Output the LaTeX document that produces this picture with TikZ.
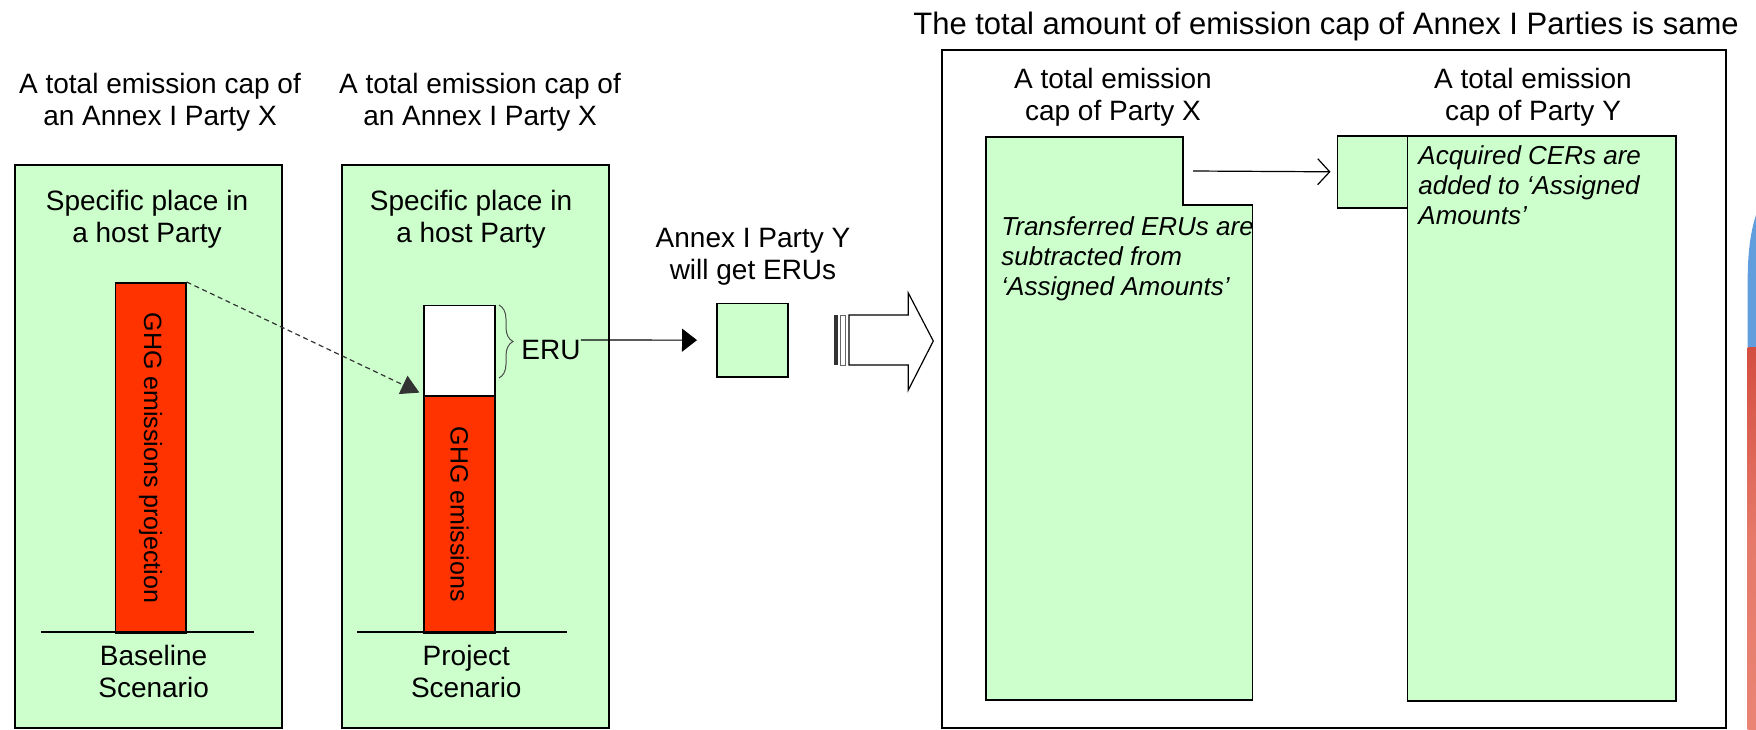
\documentclass[tikz,border=0pt]{standalone}
\usepackage{fontspec}
\setmainfont{Liberation Sans}
\usetikzlibrary{arrows.meta,decorations.pathreplacing,positioning}

\begin{document}
\begin{tikzpicture}[x=0.5pt, y=-0.5pt]
	\definecolor{capGreen}{RGB}{204, 255, 204}
	\definecolor{ghgRed}{RGB}{255, 51, 0}
	\definecolor{edgeBlue}{RGB}{98, 158, 222}
	\definecolor{edgeRed}{RGB}{212, 78, 64}
	\definecolor{edgeSalmon}{RGB}{234, 132, 116}
	\tikzstyle{greenbox}=[draw, fill=capGreen, line width=0.8pt, inner sep=0pt, anchor=north west]
	\tikzstyle{bar}=[draw, line width=0.8pt, inner sep=0pt, anchor=north west, minimum width=35.3pt]
	\tikzstyle{caption}=[align=center, font=\fontsize{14}{16}\selectfont, inner sep=0pt]
	\tikzstyle{bartext}=[rotate=-90, font=\fontsize{12.5}{14}\selectfont, inner sep=0pt]
	\tikzstyle{note}=[align=left, font=\fontsize{13}{15}\selectfont\itshape, inner sep=0pt, anchor=north west]
	\tikzstyle{ground}=[line width=1pt]

	\useasboundingbox (0,0) rectangle (1756,729);

	% baseline and project scenario
	\node [greenbox, minimum width=133.5pt, minimum height=281.5pt] (base) at (14,164) {};
	\node [greenbox, minimum width=133.5pt, minimum height=281.5pt] (proj) at (341,164) {};

	\node [caption] (basetitle) at (160,102.3) {A total emission cap of\\an Annex I Party X};
	\node [caption] (projtitle) at (480,102.3) {A total emission cap of\\an Annex I Party X};
	\node [caption] (baseplace) at (147,219) {Specific place in\\a host Party};
	\node [caption] (projplace) at (471,219) {Specific place in\\a host Party};

	\node [bar, fill=ghgRed, minimum height=175pt] (basebar) at (114.5,282) {};
	\node [bar, fill=white, minimum height=45.25pt] (erupart) at (423.4,304.5) {};
	\node [bar, fill=ghgRed, minimum height=118.5pt] (projbar) at (423.4,395) {};
	\node [bartext] (basebartext) at (basebar) {GHG emissions projection};
	\node [bartext] (projbartext) at (projbar) {GHG emissions};

	\draw [ground] (40.8,632) -- (254,632);
	\draw [ground] (357,632) -- (567,632);
	\node [caption] (basename) at (153.6,671) {Baseline\\Scenario};
	\node [caption] (projname) at (466.3,671) {Project\\Scenario};

	\draw [dash pattern=on 2.5pt off 1.8pt, line width=0.6pt, black!80, -{Triangle[length=9pt, width=10pt]}] (basebar.north east) -- ([xshift=-2pt, yshift=2pt]erupart.south west);

	% ERU goes to party Y
	\draw [decorate, decoration={brace, amplitude=7pt}, line width=0.5pt, black!70] (499,305) -- (499,378);
	\node [caption, anchor=west] (eru) at (521,350) {ERU};

	\node [caption] (partyy) at (753,257) {Annex I Party Y\\will get ERUs};
	\node [greenbox, minimum width=35.5pt, minimum height=36.65pt] (erusq) at (716,302.7) {};
	\draw [line width=0.6pt, -{Triangle[length=7.5pt, width=11.5pt]}] ([yshift=5pt]eru.east) -- ([xshift=-9.5pt]erusq.west);

	% striped block arrow
	\fill [black!80] (834,315) rectangle (837.5,365);
	\draw [line width=0.5pt, black!60] (840,315) rectangle (845.5,365);
	\draw [line width=0.6pt, fill=white] (849,315) -- (908.3,315) -- (908.3,293) -- (933.3,341) -- (908.3,390) -- (908.3,365) -- (849,365) -- cycle;

	% total cap of Annex I Parties
	\node [caption, font=\fontsize{15.5}{18}\selectfont] (sametitle) at (1326,26.5) {The total amount of emission cap of Annex I Parties is same};
	\node [draw, line width=0.8pt, inner sep=0pt, anchor=north west, minimum width=392pt, minimum height=339pt] (capbox) at (941,49) {};

	\node [caption] (xtitle) at (1113,97.5) {A total emission\\cap of Party X};
	\node [caption] (ytitle) at (1533,97.5) {A total emission\\cap of Party Y};

	\draw [fill=capGreen, line width=0.8pt] (986,137) -- (1183,137) -- (1183,204.7) -- (1252.6,204.7) -- (1252.6,700) -- (986,700) -- cycle;
	\coordinate (xnotch) at (1183,171);
	\node [greenbox, minimum width=35pt, minimum height=36pt] (ysq) at (1336.5,135) {};
	\node [greenbox, minimum width=134.25pt, minimum height=282.5pt] (ybox) at (1406.5,135) {};

	\draw [line width=0.6pt, -{Straight Barb[length=6pt, width=13pt]}] ([xshift=5pt]xnotch) -- ([xshift=-3pt]ysq.west);

	\node [note] (xnote) at (1001,216) {Transferred ERUs are\\subtracted from\\`Assigned Amounts'};
	\node [note] (ynote) at (1418,145) {Acquired CERs are\\added to `Assigned\\Amounts'};

	% slide background at the edge
	\fill [edgeBlue] (1756,215) .. controls (1751,230) and (1748,250) .. (1747.7,275) -- (1747.7,347) -- (1756,347) -- cycle;
	\shade [top color=edgeRed, bottom color=edgeSalmon, middle color=edgeSalmon!80!edgeRed] (1747.7,347) rectangle (1756,729);
\end{tikzpicture}
\end{document}
